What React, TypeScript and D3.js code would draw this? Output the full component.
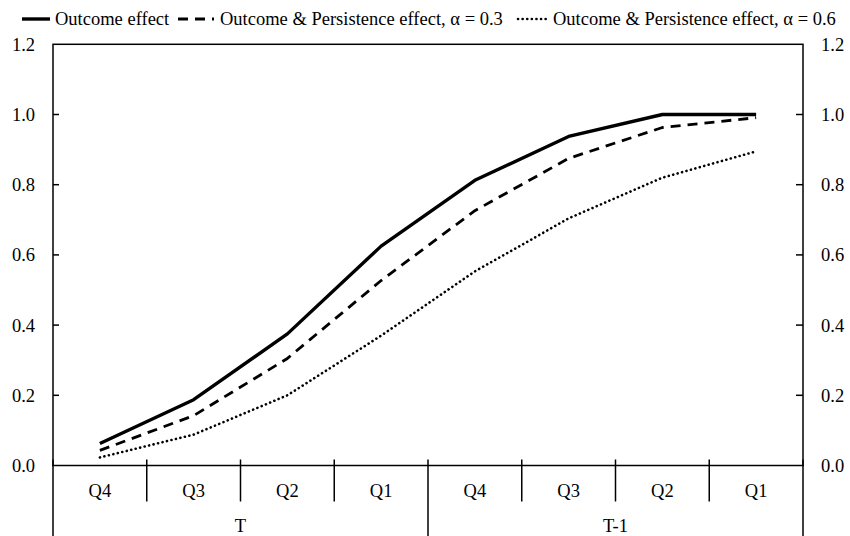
import React, { useEffect, useRef } from "react";
import * as d3 from "d3";

const quarters = ["Q4", "Q3", "Q2", "Q1", "Q4", "Q3", "Q2", "Q1"];
const periods = ["T", "T-1"];
const yTicks = [0, 0.2, 0.4, 0.6, 0.8, 1.0, 1.2];

const outcome = [0.0625, 0.1875, 0.375, 0.625, 0.8125, 0.9375, 1.0, 1.0];
const persist03 = [0.043, 0.142, 0.305, 0.527, 0.726, 0.875, 0.963, 0.991];
const persist06 = [0.023, 0.088, 0.2, 0.37, 0.553, 0.704, 0.82, 0.895];

const seriesNames = [
  "Outcome effect",
  "Outcome & Persistence  effect, \u03b1 = 0.3",
  "Outcome & Persistence  effect, \u03b1 = 0.6",
];

function App() {
  const ref = useRef<SVGSVGElement>(null);

  useEffect(() => {
    if (!ref.current) return;
    const svg = d3.select(ref.current);
    svg.selectAll("*").remove();

    const width = 850;
    const height = 536;
    const margin = { top: 44.3, right: 47, bottom: 70.5, left: 53 };
    const font = "'Liberation Serif', 'Times New Roman', serif";
    const fs = 18.5;

    const x = d3
      .scaleBand<number>()
      .domain(d3.range(quarters.length))
      .range([margin.left, width - margin.right]);

    const y = d3
      .scaleLinear()
      .domain([0, 1.2])
      .range([height - margin.bottom, margin.top]);

    const x0 = margin.left;
    const x1 = width - margin.right;
    const yBase = y(0);
    const yTop = y(1.2);

    // frame
    svg
      .append("rect")
      .attr("x", x0)
      .attr("y", yTop)
      .attr("width", x1 - x0)
      .attr("height", yBase - yTop)
      .attr("fill", "none")
      .attr("stroke", "#000")
      .attr("stroke-width", 1.5);

    // y ticks and labels both sides
    yTicks.forEach((t) => {
      const yy = y(t);
      if (t > 0 && t < 1.2) {
        svg.append("line").attr("x1", x0).attr("x2", x0 + 6).attr("y1", yy).attr("y2", yy)
          .attr("stroke", "#000").attr("stroke-width", 1.5);
        svg.append("line").attr("x1", x1 - 7).attr("x2", x1).attr("y1", yy).attr("y2", yy)
          .attr("stroke", "#000").attr("stroke-width", 1.5);
      }
      svg.append("text").attr("x", 35).attr("y", yy).attr("dy", "0.35em")
        .attr("text-anchor", "end").style("font", `${fs}px ${font}`).text(t.toFixed(1));
      svg.append("text").attr("x", 821).attr("y", yy).attr("dy", "0.35em")
        .attr("text-anchor", "start").style("font", `${fs}px ${font}`).text(t.toFixed(1));
    });

    // category boundary ticks
    d3.range(quarters.length + 1).forEach((i) => {
      const xx = i < quarters.length ? (x(i) as number) : x1;
      const isGroup = i % 4 === 0;
      svg.append("line").attr("x1", xx).attr("x2", xx)
        .attr("y1", yBase - 6).attr("y2", isGroup ? height : yBase + 36)
        .attr("stroke", "#000").attr("stroke-width", 1.5);
    });

    quarters.forEach((q, i) => {
      svg.append("text").attr("x", (x(i) as number) + x.bandwidth() / 2).attr("y", 497)
        .attr("text-anchor", "middle").style("font", `${fs}px ${font}`).text(q);
    });

    periods.forEach((p, i) => {
      const cx = (x(i * 4) as number) + x.bandwidth() * 2;
      svg.append("text").attr("x", cx).attr("y", 532)
        .attr("text-anchor", "middle").style("font", `${fs}px ${font}`).text(p);
    });

    const line = d3
      .line<number>()
      .x((_, i) => (x(i) as number) + x.bandwidth() / 2)
      .y((d) => y(d))
      .curve(d3.curveLinear);

    const styles = [
      { data: outcome, width: 3.4, dash: null, cap: "butt" },
      { data: persist03, width: 2.8, dash: "10,7", cap: "butt" },
      { data: persist06, width: 2.6, dash: "0.1,4.5", cap: "round" },
    ];

    styles.forEach((s) => {
      svg.append("path").datum(s.data).attr("d", line).attr("fill", "none")
        .attr("stroke", "#000").attr("stroke-width", s.width)
        .attr("stroke-linejoin", "round")
        .attr("stroke-dasharray", s.dash as any).attr("stroke-linecap", s.cap);
    });

    // legend
    const legendItems = [
      { x1: 22, x2: 50, tx: 55 },
      { x1: 178, x2: 214, tx: 220 },
      { x1: 518, x2: 548, tx: 553 },
    ];
    legendItems.forEach((l, i) => {
      const s = styles[i];
      svg.append("line").attr("x1", l.x1).attr("x2", l.x2).attr("y1", 19).attr("y2", 19)
        .attr("stroke", "#000").attr("stroke-width", s.width)
        .attr("stroke-dasharray", s.dash as any).attr("stroke-linecap", s.cap);
      svg.append("text").attr("x", l.tx).attr("y", 19).attr("dy", "0.32em")
        .style("font", `${fs}px ${font}`).text(seriesNames[i]);
    });
  }, []);

  return (
    <svg
      ref={ref}
      width={850}
      height={536}
      style={{ position: "absolute", left: 0, top: 0, background: "#fff" }}
    />
  );
}

export default App;
